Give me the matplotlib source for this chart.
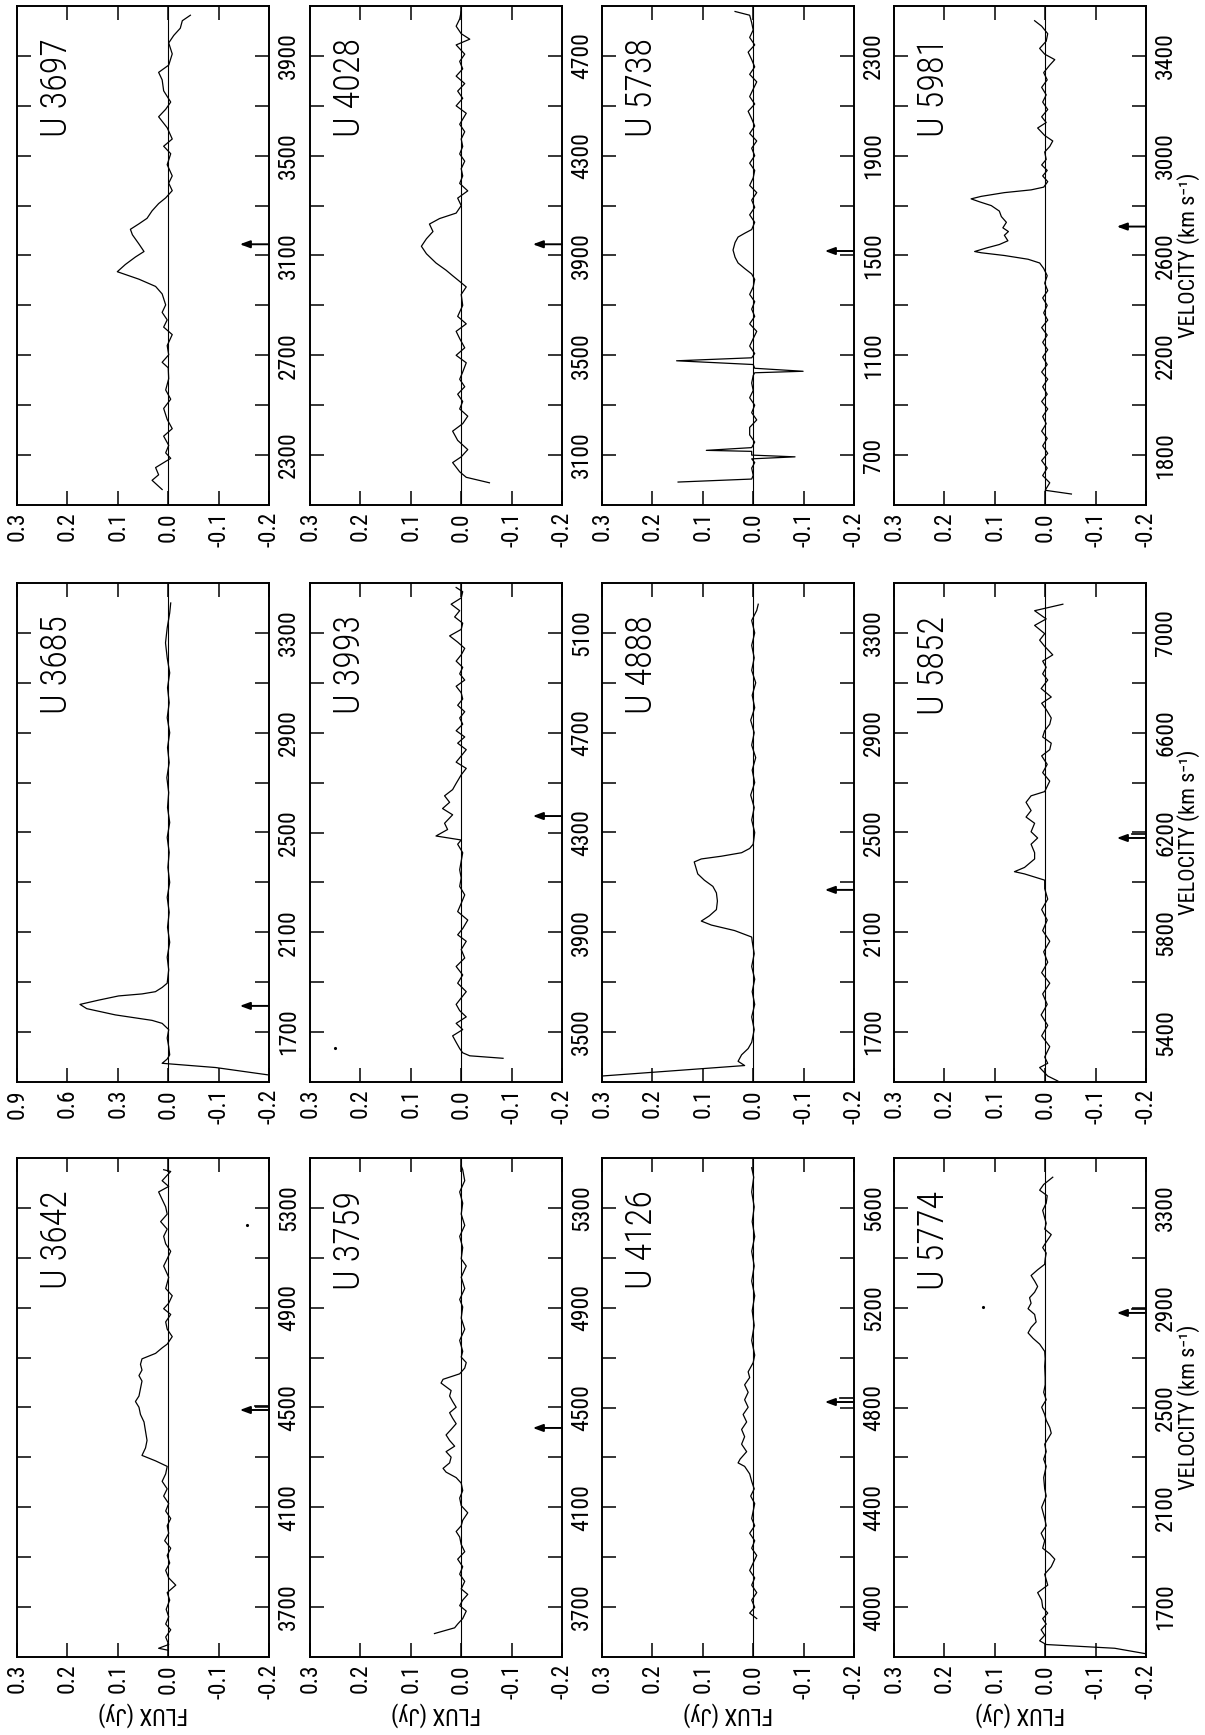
import matplotlib
matplotlib.use('Agg')
import matplotlib.pyplot as plt
from matplotlib import font_manager

# galaxies, row by row as they sit on the (rotated) page
names = ['U 3697', 'U 4028', 'U 5738', 'U 5981',
         'U 3685', 'U 3993', 'U 4888', 'U 5852',
         'U 3642', 'U 3759', 'U 4126', 'U 5774']
vlo = [2100, 2900, 500, 1600,
       1500, 3300, 1500, 5200,
       3500, 3500, 3800, 1500]   # velocity at the bottom of each box, span 2000
arrow_v = [3145, 3945, 1518, 2716,
           1805, 4366, 2270, 6178,
           4490, 4418, 4822, 2879]
arrow_double = [False, False, False, False,
                False, False, False, True,
                True, False, True, True]

flux_ticks = [0.3, 0.2, 0.1, 0.0, -0.1, -0.2]
flux_labels = ['0.3', '0.2', '0.1', '0.0', '-0.1', '-0.2']
flux_labels_big = ['0.9', '0.6', '0.3', '0.0', '-0.1', '-0.2']   # U 3685, positive side x3

v_3697 = [2162, 2199, 2221, 2250, 2287, 2309, 2339, 2376, 2406, 2443, 2487, 2524, 2561, 2606, 2650,
          2672, 2702, 2739, 2783, 2813, 2842, 2872, 2902, 2946, 2976, 3005, 3035, 3064, 3094, 3116,
          3146, 3183, 3205, 3227, 3249, 3279, 3308, 3331, 3360, 3390, 3419, 3464, 3508, 3538, 3567,
          3612, 3656, 3686, 3715, 3760, 3804, 3834, 3863, 3908, 3952, 3982, 4011, 4041, 4063]
f_3697 = [0.012, 0.032, 0.019, 0.025, -0.005, 0.005, -0.001, 0.009, -0.008, 0.002, 0.009, -0.005, 0.005, -0.001, 0.000,
          0.012, -0.001, 0.002, -0.008, 0.009, 0.002, 0.012, 0.005, 0.012, 0.025, 0.058, 0.101, 0.085, 0.065, 0.048,
          0.058, 0.071, 0.075, 0.058, 0.042, 0.032, 0.019, 0.005, -0.008, -0.001, -0.008, 0.002, -0.005, 0.009, -0.008,
          0.002, 0.019, 0.005, -0.005, 0.009, 0.012, 0.019, -0.001, -0.008, -0.001, -0.011, -0.024, -0.028, -0.044]

v_4028 = [2989, 3011, 3033, 3070, 3093, 3122, 3159, 3196, 3226, 3256, 3285, 3315, 3344, 3374, 3404, 3433,
          3470, 3500, 3530, 3567, 3596, 3626, 3656, 3700, 3744, 3774, 3796, 3819, 3841, 3870, 3907, 3937,
          3967, 3996, 4026, 4048, 4070, 4100, 4130, 4159, 4189, 4219, 4248, 4278, 4307, 4337, 4367, 4396,
          4426, 4470, 4500, 4530, 4559, 4589, 4619, 4648, 4678, 4707, 4744, 4767, 4789, 4819, 4848, 4878]
f_4028 = [-0.056, -0.010, 0.003, 0.017, 0.000, -0.013, 0.007, 0.017, -0.003, -0.013, 0.003, -0.003, 0.007, -0.007, 0.003, -0.003,
          -0.010, 0.010, -0.007, 0.003, 0.010, -0.010, 0.007, -0.003, 0.000, -0.010, 0.003, 0.017, 0.030, 0.050, 0.069, 0.079,
          0.069, 0.056, 0.063, 0.043, 0.010, 0.000, 0.007, -0.013, 0.003, -0.003, 0.000, -0.007, 0.003, -0.003, 0.000, -0.007,
          0.003, -0.010, 0.010, -0.003, 0.007, -0.007, 0.010, -0.003, 0.003, -0.007, 0.010, -0.017, 0.000, 0.010, 0.003, 0.000]

v_5738 = [592, 604, 619, 648, 670, 685, 693, 700, 715, 719, 730, 752, 781, 811, 841, 870, 900, 930, 959, 989,
          1019, 1030, 1036, 1048, 1063, 1078, 1090, 1107, 1137, 1167, 1196, 1226, 1256, 1285, 1315, 1344, 1374, 1404,
          1426, 1448, 1470, 1493, 1522, 1552, 1574, 1589, 1604, 1633, 1663, 1693, 1722, 1752, 1781, 1811, 1841, 1870,
          1900, 1930, 1959, 1989, 2019, 2048, 2078, 2107, 2137, 2167, 2196, 2226, 2256, 2285, 2315, 2344, 2374, 2404,
          2433, 2463, 2478]
f_5738 = [0.149, 0.003, 0.000, 0.003, -0.003, 0.003, -0.083, 0.003, 0.003, 0.093, 0.003, -0.003, 0.007, 0.007, -0.007, 0.003, -0.003, 0.007, 0.000, 0.003,
          0.000, -0.003, -0.099, -0.003, 0.000, 0.152, 0.003, -0.003, 0.007, 0.000, -0.007, 0.007, -0.003, 0.003, -0.003, 0.007, 0.000, -0.003,
          0.003, 0.017, 0.030, 0.036, 0.040, 0.036, 0.030, 0.017, 0.003, -0.003, 0.007, -0.003, 0.003, -0.007, 0.007, 0.000, -0.003, 0.007,
          -0.003, 0.003, -0.007, 0.007, -0.003, 0.003, 0.010, -0.003, 0.007, 0.000, -0.007, 0.007, -0.003, 0.003, 0.010, -0.003, 0.007, 0.000,
          0.003, 0.007, 0.036]

v_5981 = [1644, 1659, 1689, 1718, 1748, 1778, 1807, 1837, 1867, 1896, 1926, 1955, 1985, 2015, 2044, 2074, 2104,
          2133, 2163, 2193, 2222, 2252, 2281, 2311, 2341, 2370, 2400, 2430, 2459, 2489, 2519, 2548, 2570, 2585,
          2600, 2611, 2616, 2630, 2644, 2659, 2681, 2696, 2711, 2733, 2756, 2778, 2800, 2815, 2827, 2837, 2852,
          2863, 2874, 2896, 2919, 2941, 2963, 2985, 3015, 3037, 3059, 3081, 3111, 3133, 3156, 3185, 3215, 3244,
          3274, 3304, 3333, 3363, 3385, 3407, 3430, 3459, 3489, 3519, 3541]
f_5981 = [-0.052, 0.000, -0.009, 0.005, -0.004, 0.007, -0.005, 0.005, -0.004, 0.007, -0.002, 0.005, -0.005, 0.007, -0.004, 0.005, -0.005,
          0.007, -0.004, 0.005, -0.005, 0.005, -0.004, 0.007, -0.005, 0.003, -0.004, 0.005, -0.005, 0.001, -0.004, 0.003, 0.011, 0.034,
          0.081, 0.127, 0.140, 0.117, 0.091, 0.074, 0.081, 0.073, 0.084, 0.077, 0.087, 0.091, 0.107, 0.130, 0.147, 0.127, 0.081,
          0.028, 0.003, -0.005, 0.005, -0.004, 0.007, -0.002, 0.001, -0.009, -0.015, 0.001, 0.015, -0.002, 0.007, -0.005, 0.005, -0.002,
          0.007, -0.004, 0.003, -0.009, -0.019, 0.001, 0.011, -0.002, -0.005, 0.007, 0.021]

v_3685 = [1528, 1558, 1575, 1592, 1609, 1642, 1676, 1710, 1735, 1747, 1769, 1794, 1811, 1828, 1845, 1853, 1862,
          1879, 1896, 1950, 2000, 2060, 2120, 2180, 2240, 2300, 2360, 2420, 2480, 2540, 2600, 2660, 2720, 2780,
          2840, 2900, 2960, 3020, 3080, 3140, 3200, 3260, 3320, 3380, 3420]
f_3685 = [-0.200, -0.094, 0.036, 0.006, -0.003, -0.001, 0.006, -0.001, 0.036, 0.096, 0.315, 0.485, 0.525, 0.415, 0.295, 0.156, 0.076,
          0.036, 0.006, -0.001, 0.006, -0.003, 0.004, -0.002, 0.006, -0.003, 0.002, -0.002, 0.006, -0.003, 0.004, -0.001, 0.008, -0.002,
          0.004, -0.003, 0.006, -0.002, 0.004, -0.003, 0.006, 0.016, 0.006, -0.003, -0.005]

v_3993 = [3395, 3405, 3417, 3434, 3459, 3485, 3510, 3535, 3561, 3586, 3611, 3637, 3662, 3696, 3729, 3763, 3797, 3831,
          3864, 3890, 3915, 3949, 3983, 4016, 4050, 4084, 4118, 4151, 4185, 4219, 4253, 4270, 4286, 4312, 4337, 4371,
          4396, 4421, 4447, 4472, 4497, 4531, 4557, 4582, 4607, 4632, 4658, 4683, 4708, 4734, 4759, 4784, 4810, 4835,
          4860, 4886, 4911, 4936, 4962, 4987, 5012, 5038, 5063, 5088, 5114, 5139, 5164, 5189, 5215, 5240, 5265, 5282]
f_3993 = [-0.083, -0.017, -0.003, 0.003, 0.010, 0.017, -0.003, 0.010, -0.010, 0.003, 0.010, 0.000, -0.010, 0.007, -0.003, 0.010, -0.007, 0.000,
          -0.010, 0.007, -0.003, -0.013, 0.007, 0.000, -0.007, 0.003, 0.000, 0.003, 0.000, -0.003, 0.007, 0.000, 0.050, 0.027, 0.033, 0.017,
          0.037, 0.023, 0.033, 0.017, 0.010, 0.000, -0.010, 0.010, 0.000, -0.010, 0.007, -0.007, 0.010, -0.003, 0.003, -0.007, 0.007, -0.003,
          0.000, 0.010, -0.007, 0.003, -0.003, 0.010, 0.000, -0.007, 0.007, 0.023, 0.000, -0.003, 0.013, 0.003, 0.020, 0.000, -0.003, 0.010]

v_4888 = [1524, 1566, 1583, 1609, 1634, 1659, 1710, 1761, 1811, 1862, 1912, 1963, 2014, 2064, 2081, 2107, 2129,
          2145, 2166, 2191, 2225, 2258, 2284, 2309, 2334, 2382, 2394, 2405, 2419, 2436, 2453, 2500, 2550, 2600,
          2650, 2700, 2750, 2800, 2850, 2900, 2950, 3000, 3050, 3100, 3150, 3200, 3250, 3300, 3350, 3390, 3415]
f_4888 = [0.300, 0.017, 0.030, 0.023, 0.010, 0.003, -0.002, 0.003, -0.003, 0.002, -0.003, 0.003, -0.002, 0.002, 0.003, 0.037, 0.083,
          0.103, 0.087, 0.073, 0.071, 0.073, 0.080, 0.097, 0.110, 0.117, 0.103, 0.063, 0.023, 0.007, 0.000, -0.003, 0.003, -0.002,
          0.005, -0.003, 0.002, -0.005, 0.003, -0.002, 0.005, -0.003, 0.002, -0.005, 0.003, -0.002, 0.003, -0.003, 0.003, -0.007, -0.010]

v_5852 = [5204, 5224, 5258, 5275, 5300, 5342, 5385, 5427, 5469, 5511, 5553, 5596, 5638, 5680, 5722, 5764, 5807, 5849,
          5891, 5933, 5975, 6009, 6034, 6043, 6060, 6094, 6119, 6153, 6178, 6203, 6237, 6262, 6288, 6321, 6347, 6364,
          6406, 6440, 6473, 6507, 6532, 6558, 6583, 6608, 6634, 6659, 6693, 6718, 6743, 6777, 6811, 6836, 6862, 6887,
          6912, 6946, 6971, 6997, 7030, 7056, 7089, 7115]
f_5852 = [-0.025, -0.005, 0.011, -0.005, 0.001, -0.009, 0.007, -0.005, 0.008, -0.004, 0.005, -0.009, 0.007, -0.005, 0.003, -0.009, 0.005, -0.004,
          0.007, -0.005, 0.001, 0.001, 0.041, 0.061, 0.041, 0.021, 0.021, 0.028, 0.015, 0.028, 0.021, 0.038, 0.028, 0.038, 0.028, 0.001,
          -0.009, 0.005, -0.004, 0.007, -0.009, -0.012, 0.005, 0.001, -0.009, -0.012, -0.002, 0.007, -0.012, 0.008, -0.005, 0.005, -0.002, 0.005,
          -0.015, 0.001, 0.011, 0.001, 0.021, -0.002, 0.021, -0.035]

v_3642 = [3527, 3535, 3550, 3580, 3609, 3632, 3661, 3691, 3728, 3758, 3788, 3817, 3847, 3877, 3907, 3936, 3966, 3996,
          4026, 4055, 4085, 4115, 4145, 4174, 4204, 4234, 4264, 4286, 4308, 4338, 4368, 4405, 4442, 4472, 4501, 4524,
          4546, 4576, 4606, 4628, 4650, 4673, 4695, 4717, 4739, 4754, 4784, 4814, 4843, 4873, 4896, 4918, 4948, 4977,
          5022, 5067, 5096, 5126, 5156, 5186, 5215, 5245, 5275, 5304, 5334, 5364, 5386, 5409, 5431, 5446, 5453]
f_3642 = [0.000, 0.019, -0.001, 0.005, -0.005, 0.005, -0.001, 0.004, -0.003, 0.002, -0.015, -0.001, 0.005, -0.003, 0.002, -0.005, 0.007, -0.001,
          0.002, -0.005, 0.005, -0.001, 0.009, 0.002, 0.012, 0.005, 0.002, 0.025, 0.052, 0.045, 0.042, 0.045, 0.048, 0.055, 0.058, 0.065,
          0.058, 0.055, 0.052, 0.058, 0.052, 0.055, 0.052, 0.025, 0.012, 0.002, -0.008, 0.002, 0.005, -0.005, 0.009, -0.001, -0.008, 0.005,
          -0.001, 0.009, 0.002, -0.005, 0.005, 0.009, 0.002, 0.015, 0.002, 0.005, 0.012, 0.019, -0.001, 0.012, 0.002, -0.005, 0.009]

v_3759 = [3594, 3617, 3632, 3654, 3684, 3706, 3728, 3751, 3773, 3803, 3832, 3862, 3892, 3922, 3951, 3981, 4003, 4026,
          4048, 4078, 4107, 4137, 4167, 4197, 4219, 4241, 4256, 4278, 4301, 4323, 4345, 4368, 4390, 4412, 4435, 4457,
          4479, 4501, 4524, 4546, 4568, 4598, 4613, 4635, 4658, 4680, 4702, 4725, 4769, 4814, 4858, 4903, 4933, 4977,
          5022, 5067, 5096, 5141, 5186, 5230, 5275, 5319, 5364, 5409, 5453, 5468]
f_3759 = [0.053, 0.013, 0.007, -0.003, -0.010, 0.003, -0.003, -0.013, 0.000, -0.007, 0.003, -0.003, 0.007, -0.007, 0.000, 0.003, 0.010, 0.000,
          -0.003, -0.013, 0.000, 0.003, -0.003, 0.000, 0.010, 0.030, 0.036, 0.023, 0.020, 0.030, 0.013, 0.023, 0.030, 0.020, 0.010, 0.017,
          0.023, 0.010, 0.017, 0.023, 0.020, 0.040, 0.036, 0.003, -0.007, -0.010, 0.000, -0.003, 0.003, -0.007, 0.000, -0.003, 0.003, -0.007,
          0.000, -0.010, 0.000, -0.003, 0.003, -0.007, 0.000, -0.003, 0.003, -0.007, -0.003, 0.000]

v_4126 = [3954, 3976, 3999, 4028, 4058, 4088, 4117, 4147, 4177, 4207, 4236, 4266, 4296, 4326, 4355, 4385, 4415, 4445,
          4474, 4504, 4534, 4564, 4578, 4593, 4623, 4653, 4683, 4712, 4742, 4772, 4801, 4831, 4861, 4891, 4920, 4943,
          4980, 5010, 5069, 5129, 5188, 5248, 5307, 5367, 5426, 5485, 5545, 5604, 5664, 5723, 5761]
f_4126 = [-0.007, 0.007, -0.003, 0.003, -0.007, 0.003, -0.003, 0.007, 0.000, -0.007, 0.003, -0.003, 0.007, -0.003, 0.003, 0.000, -0.003, 0.005,
          -0.002, 0.003, 0.007, 0.017, 0.030, 0.026, 0.013, 0.023, 0.017, 0.023, 0.013, 0.020, 0.010, 0.017, 0.010, 0.017, 0.007, 0.010,
          0.000, -0.003, 0.003, -0.002, 0.002, -0.003, 0.003, -0.002, 0.003, -0.003, 0.002, -0.002, 0.003, -0.001, 0.003]

v_5774 = [1513, 1535, 1550, 1565, 1587, 1609, 1632, 1654, 1676, 1699, 1728, 1758, 1788, 1832, 1862, 1892, 1914, 1936,
          1966, 1996, 2026, 2055, 2100, 2145, 2174, 2219, 2264, 2293, 2323, 2353, 2397, 2420, 2449, 2472, 2501, 2531,
          2561, 2591, 2620, 2665, 2695, 2725, 2754, 2777, 2799, 2821, 2843, 2873, 2896, 2918, 2940, 2962, 2985, 3007,
          3029, 3052, 3074, 3096, 3119, 3141, 3163, 3193, 3215, 3238, 3260, 3290, 3319, 3349, 3371, 3394, 3423]
f_5774 = [-0.200, -0.138, -0.002, 0.011, 0.001, 0.008, -0.002, 0.005, -0.005, 0.005, 0.007, 0.015, -0.005, 0.001, -0.012, -0.019, -0.009, 0.005,
          0.001, 0.008, -0.002, 0.001, 0.007, -0.002, 0.001, 0.003, -0.002, 0.003, -0.002, 0.001, -0.012, -0.009, -0.002, 0.001, 0.007, -0.002,
          0.003, 0.000, 0.000, 0.001, 0.000, 0.001, 0.011, 0.024, 0.034, 0.028, 0.018, 0.021, 0.034, 0.028, 0.031, 0.021, 0.015, 0.021,
          0.028, 0.015, 0.001, 0.000, -0.002, 0.005, -0.002, -0.012, 0.001, -0.002, 0.001, 0.005, -0.002, -0.004, 0.011, 0.003, -0.015]

spectra = [(v_3697, f_3697), (v_4028, f_4028), (v_5738, f_5738), (v_5981, f_5981),
           (v_3685, f_3685), (v_3993, f_3993), (v_4888, f_4888), (v_5852, f_5852),
           (v_3642, f_3642), (v_3759, f_3759), (v_4126, f_4126), (v_5774, f_5774)]

# stray specks on the scan
speck_panel = [8, 11, 5]
speck_v = [5231, 2903, 3436]
speck_f = [-0.156, 0.123, 0.25]

# fonts: the original lettering is narrow and thin; take the narrowest one installed
fm = font_manager.fontManager.ttflist
avail = {f.name for f in fm}
dejavu_cond = any(f.name == 'DejaVu Sans' and 'ondensed' in f.fname for f in fm)
gal_weight = 'normal'
if 'Roboto Condensed' in avail:
    plt.rcParams['font.family'] = ['Roboto Condensed', 'DejaVu Sans']
    sz_tick, sz_gal, sz_flux, sz_vel = 17, 26, 17, 16
    gal_weight = 'light'
elif 'Liberation Sans Narrow' in avail:
    plt.rcParams['font.family'] = ['Liberation Sans Narrow', 'DejaVu Sans']
    sz_tick, sz_gal, sz_flux, sz_vel = 17.5, 27, 18, 17
elif dejavu_cond:
    plt.rcParams['font.family'] = ['DejaVu Sans']
    plt.rcParams['font.stretch'] = 'condensed'
    sz_tick, sz_gal, sz_flux, sz_vel = 15, 23, 16.5, 15
    gal_weight = 'light'
else:
    plt.rcParams['font.family'] = ['DejaVu Sans']
    sz_tick, sz_gal, sz_flux, sz_vel = 13.5, 22, 15, 13.5
    gal_weight = 'light'

W, H = 1205, 1735
fig = plt.figure(figsize=(W / 100, H / 100), dpi=100)
fig.patch.set_facecolor('white')

col_left = [17, 310, 602, 894]
row_top = [6, 583, 1158]
bw, bh = 252, 499


def disp(f, big):
    # U 3685 has its positive flux compressed by 3
    if big and f > 0:
        return f / 3.0
    return f


for i in range(12):
    r, c = divmod(i, 4)
    ax = fig.add_axes([col_left[c] / W, 1 - (row_top[r] + bh) / H, bw / W, bh / H])
    big = names[i] == 'U 3685'
    lo = vlo[i]
    v, f = spectra[i]
    ax.plot([disp(x, big) for x in f], v, color='k', lw=0.9)
    ax.axvline(0, color='k', lw=0.8)
    ax.set_xlim(0.3, -0.2)
    ax.set_ylim(lo, lo + 2000)

    ax.set_xticks(flux_ticks)
    ax.set_xticklabels(flux_labels_big if big else flux_labels, rotation=90,
                       ha='center', va='top', fontsize=sz_tick)
    yt = [lo + 200 * k for k in range(1, 10)]
    ax.set_yticks(yt)
    ax.set_yticklabels([str(t) if k % 2 == 1 else '' for k, t in zip(range(1, 10), yt)],
                       rotation=90, va='center', fontsize=sz_tick)
    ax.tick_params(direction='in', length=10, width=1.1, top=True, bottom=True,
                   left=True, right=True, labelleft=False, labelright=True)
    ax.tick_params(axis='x', pad=5)
    ax.tick_params(axis='y', pad=6)
    for s in ax.spines.values():
        s.set_linewidth(1.4)

    # optical velocity arrow
    va = arrow_v[i]
    ax.annotate('', xy=(-0.142, va), xytext=(-0.2, va),
                arrowprops=dict(arrowstyle='-|>,head_length=0.6,head_width=0.22',
                                color='k', lw=1.4, shrinkA=0, shrinkB=0))
    if arrow_double[i]:
        ax.plot([-0.2, -0.172], [va + 16, va + 16], color='k', lw=1.2)

    ax.text(0.16, 0.935, names[i], transform=ax.transAxes, rotation=90,
            ha='center', va='top', fontsize=sz_gal, fontweight=gal_weight)

for p, sv, sf in zip(speck_panel, speck_v, speck_f):
    fig.axes[p].plot([sf], [sv], 'k.', ms=2.5)

for c in range(4):
    fig.text((col_left[c] + bw / 2) / W, 1 - 1714 / H, 'FLUX (Jy)', rotation=180,
             ha='center', va='center', fontsize=sz_flux)
for r in range(3):
    fig.text(1177 / W, 1 - (row_top[r] + bh / 2) / H, 'VELOCITY (km s\u207b\u00b9)',
             rotation=90, ha='left', va='center', fontsize=sz_vel)

fig.savefig('out.png', dpi=100)
